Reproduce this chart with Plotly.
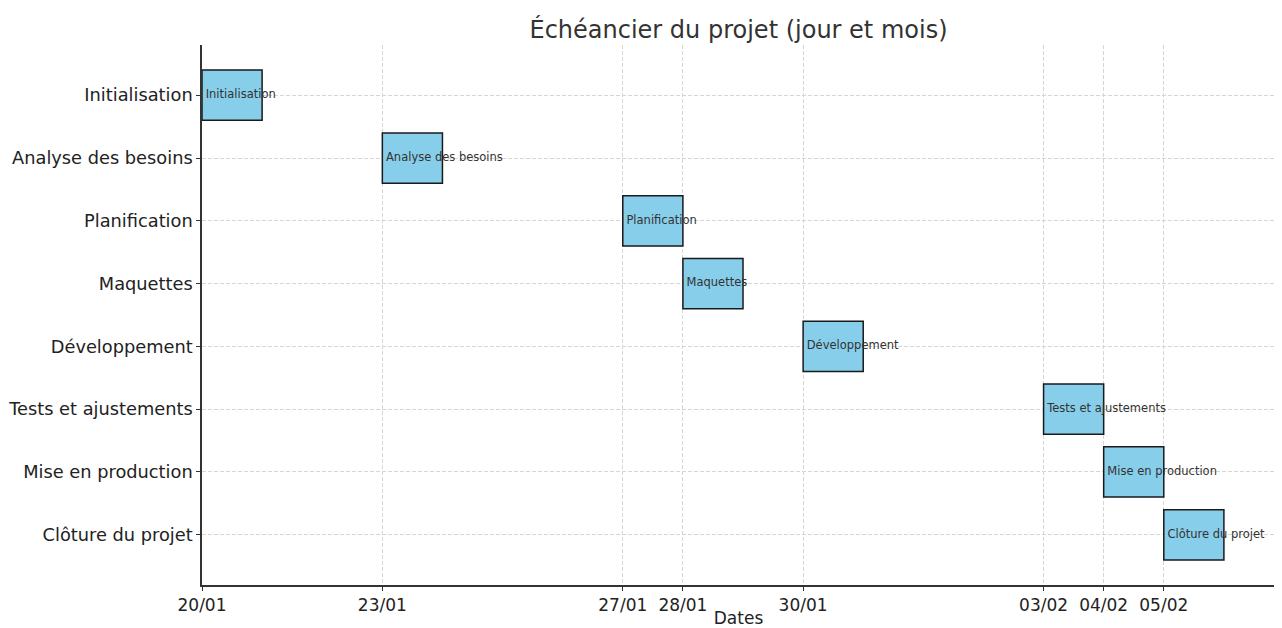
import plotly.graph_objects as go
import pandas as pd

tasks = ["Initialisation", "Analyse des besoins", "Planification", "Maquettes",
         "Développement", "Tests et ajustements", "Mise en production", "Clôture du projet"]
starts = ["2024-01-20", "2024-01-23", "2024-01-27", "2024-01-28",
          "2024-01-30", "2024-02-03", "2024-02-04", "2024-02-05"]
durations_days = [1, 1, 1, 1, 1, 1, 1, 1]

start_ts = pd.to_datetime(starts)
dur_ms = [d * 86400000 for d in durations_days]
tick_text = [d.strftime("%d/%m") for d in start_ts]
start_str = [d.strftime("%Y-%m-%d") for d in start_ts]

fig = go.Figure()
fig.add_trace(go.Bar(
    y=tasks, x=dur_ms, base=start_str,
    orientation="h", width=0.8,
    marker=dict(color="#87CEEB", line=dict(color="#1a1a1a", width=1.5)),
    showlegend=False, hoverinfo="skip",
))
fig.add_trace(go.Scatter(
    y=tasks, x=start_str,
    mode="text", text=tasks, texttemplate=" %{text}", textposition="middle right",
    textfont=dict(family="DejaVu Sans", size=11.5, color="#333333"),
    showlegend=False, hoverinfo="skip",
))

end_range = start_ts[0] + pd.Timedelta(days=17.85)
grid_dash = "4px,2px"
# page body has an 8px margin: the figure is sized/margined to compensate
fig.update_layout(
    width=1274, height=620,
    margin=dict(l=194, r=7, t=37, b=43),
    plot_bgcolor="white", paper_bgcolor="white",
    title=dict(text="Échéancier du projet (jour et mois)", x=0.5, xref="paper", xanchor="center",
               y=0.965, yanchor="middle",
               font=dict(family="DejaVu Sans", size=24, color="#333333")),
    font=dict(family="DejaVu Sans", color="#222222"),
    xaxis=dict(
        type="date", range=[start_str[0], end_range.strftime("%Y-%m-%d %H:%M")],
        tickmode="array", tickvals=start_str, ticktext=tick_text,
        showgrid=True, gridcolor="#d6d6d6", griddash=grid_dash, gridwidth=1,
        showline=True, linecolor="#333333", linewidth=1.5,
        ticks="outside", ticklen=4, tickcolor="#333333",
        tickfont=dict(size=17, color="#222222"),
        title=dict(text="Dates", font=dict(size=17, color="#222222"), standoff=4),
        zeroline=False, automargin=False,
    ),
    yaxis=dict(
        type="category", categoryorder="array", categoryarray=tasks,
        range=[7.8, -0.8],
        showgrid=True, gridcolor="#d6d6d6", griddash=grid_dash, gridwidth=1,
        showline=True, linecolor="#333333", linewidth=1.5,
        ticks="outside", ticklen=4, tickcolor="#333333",
        tickfont=dict(size=17.8, color="#222222"),
        zeroline=False, automargin=False,
    ),
)

fig.write_html("out.html")
